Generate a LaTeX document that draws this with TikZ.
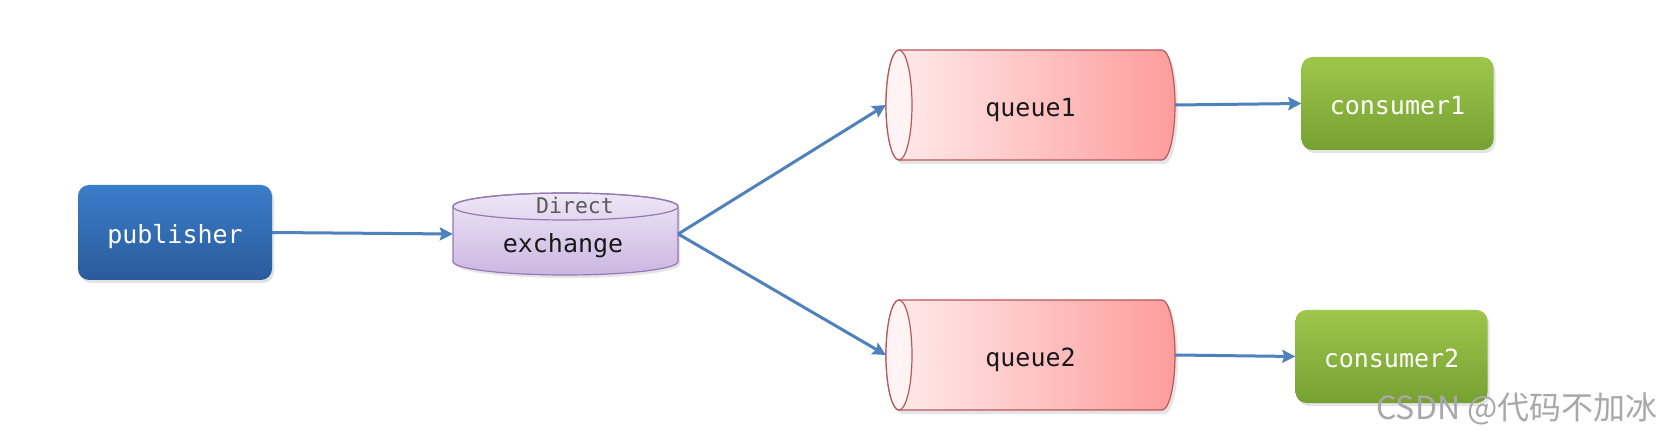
\documentclass[tikz,border=0pt]{standalone}
\usepackage{fontspec}
\setmonofont{DejaVu Sans Mono}
\newfontfamily\cjkfont{Noto Sans CJK SC}
\usetikzlibrary{arrows.meta,shadows,calc}
\definecolor{arrowblue}{HTML}{4F81BD}
\definecolor{pubtop}{HTML}{3B7DC9}
\definecolor{pubbot}{HTML}{2A5B9C}
\definecolor{contop}{HTML}{9EC64C}
\definecolor{conbot}{HTML}{76A132}
\definecolor{exline}{HTML}{9479B4}
\definecolor{extop}{HTML}{EEE7F6}
\definecolor{exbot}{HTML}{CBB6E1}
\definecolor{qline}{HTML}{B9575A}
\definecolor{qleft}{HTML}{FFEDED}
\definecolor{qright}{HTML}{FF9C9C}
\definecolor{qface}{HTML}{FFF3F3}
\definecolor{wmark}{HTML}{A8A8A8}
\newcommand\qcyl[2]{%
  \fill[black,opacity=0.10] ({#1-131.5+3},{#2+55-4}) -- ({#1+131.5+3},{#2+55-4}) arc (90:-90:13 and 55) -- ({#1-131.5+3},{#2-55-4}) arc (270:90:13 and 55) -- cycle;
  \path[draw=qline, line width=1.2pt, left color=qleft, right color=qright] ({#1-131.5},{#2+55}) -- ({#1+131.5},{#2+55}) arc (90:-90:13 and 55) -- ({#1-131.5},{#2-55}) arc (270:90:13 and 55) -- cycle;
  \path[draw=qline, line width=1.2pt, fill=qface] ({#1-131.5},#2) ellipse (13 and 55);
}
\begin{document}
\begin{tikzpicture}[x=1pt,y=1pt,
  txt/.style={font=\ttfamily\fontsize{25}{30}\selectfont, text height=23pt, text depth=0pt},
  boxnode/.style={txt, rounded corners=11pt, text=white, inner sep=0pt,
    drop shadow={shadow xshift=2pt, shadow yshift=-3pt, opacity=0.22}},
  pubbox/.style={boxnode, top color=pubtop, bottom color=pubbot, minimum width=194pt, minimum height=95pt},
  conbox/.style={boxnode, top color=contop, bottom color=conbot, minimum width=192pt, minimum height=93pt},
  qnode/.style={txt, text=black!90, minimum width=289pt, minimum height=110pt, inner sep=0pt},
  exnode/.style={minimum width=225pt, minimum height=82pt, inner sep=0pt},
  conn/.style={draw=arrowblue, line width=3pt, -{Stealth[length=13pt,width=13pt,inset=2pt]}}
]
\useasboundingbox (0,0) rectangle (1664,439);
\fill[white] (0,0) rectangle (1664,439);

% exchange cylinder
\fill[black,opacity=0.10] (455,229.5) -- (455,174.5) arc (180:360:112.5 and 13.5) -- (680,229.5) arc (0:180:112.5 and 13.5) -- cycle;
\path[draw=exline, line width=1.2pt, top color=extop, bottom color=exbot] (453,232.5) -- (453,177.5) arc (180:360:112.5 and 13.5) -- (678,232.5) arc (0:180:112.5 and 13.5) -- cycle;
\draw[exline, line width=1.2pt] (565.5,232.5) ellipse (112.5 and 13.5);

% queues
\qcyl{1030.5}{334}
\qcyl{1030.5}{84}

% nodes
\node[pubbox] (pub) at (175,206.5) {publisher};
\node[exnode] (ex) at (565.5,205) {};
\node[txt, text=black!90, inner sep=0pt] (exname) at (563,198) {exchange};
\node[font=\ttfamily\fontsize{21.5}{26}\selectfont, text=black!65, inner sep=0pt] (exdir) at (575,234) {Direct};
\node[qnode] (q1) at (1030.5,334) {queue1};
\node[qnode] (q2) at (1030.5,84) {queue2};
\node[conbox] (c1) at (1397.5,335.5) {consumer1};
\node[conbox] (c2) at (1391.5,82.5) {consumer2};

% connectors
\draw[conn] (pub.east) -- (ex.west);
\draw[conn] (ex.east) -- (q1.west);
\draw[conn] (ex.east) -- (q2.west);
\draw[conn] (q1.east) -- (c1.west);
\draw[conn] (q2.east) -- (c2.west);

% watermark
\node[font=\cjkfont\fontsize{32}{38}\selectfont, text=wmark, inner sep=0pt] (wm) at (1517,30.5) {CSDN @代码不加冰};
\end{tikzpicture}
\end{document}
